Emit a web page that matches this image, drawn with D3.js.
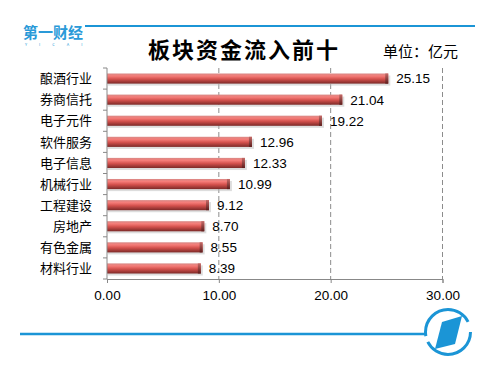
<!DOCTYPE html>
<html>
<head>
<meta charset="utf-8">
<script src="https://cdn.jsdelivr.net/npm/d3@7"></script>
<style>
  body { margin: 0; background: #fff; }
  text { font-family: "Noto Sans CJK SC", "Liberation Sans", sans-serif; }
</style>
</head>
<body>
<div id="chart"></div>
<script>
// data
var categories = ["酿酒行业", "券商信托", "电子元件", "软件服务", "电子信息",
                  "机械行业", "工程建设", "房地产", "有色金属", "材料行业"];
var inflows = [25.15, 21.04, 19.22, 12.96, 12.33, 10.99, 9.12, 8.70, 8.55, 8.39];
var xTicks = [0, 10, 20, 30];

var width = 500, height = 373;
var margin = {top: 68, right: 58, bottom: 94, left: 107};
var plotW = width - margin.left - margin.right,
    plotH = height - margin.top - margin.bottom;

var blue = "#1b95d6";

var svg = d3.select("#chart").append("svg")
    .attr("width", width)
    .attr("height", height);

// bar gradient (cylinder look)
var defs = svg.append("defs");
var grad = defs.append("linearGradient")
    .attr("id", "barGrad")
    .attr("x1", 0).attr("y1", 0).attr("x2", 0).attr("y2", 1);
grad.append("stop").attr("offset", "0%").attr("stop-color", "#d98a87");
grad.append("stop").attr("offset", "25%").attr("stop-color", "#f57c78");
grad.append("stop").attr("offset", "55%").attr("stop-color", "#d4514d");
grad.append("stop").attr("offset", "100%").attr("stop-color", "#7c2927");

var capGrad = defs.append("linearGradient")
    .attr("id", "capGrad")
    .attr("x1", 0).attr("y1", 0).attr("x2", 0).attr("y2", 1);
capGrad.append("stop").attr("offset", "0%").attr("stop-color", "#c46a67");
capGrad.append("stop").attr("offset", "100%").attr("stop-color", "#5e1d1c");

// header: logo + blue rule
svg.append("line")
    .attr("x1", 85).attr("x2", 475)
    .attr("y1", 26).attr("y2", 26)
    .attr("stroke", blue).attr("stroke-width", 2);

svg.append("text")
    .attr("x", 23).attr("y", 38)
    .style("font-size", "15px")
    .style("font-weight", "bold")
    .attr("fill", "#2a9ad8")
    .text("第一财经");
svg.append("text")
    .attr("x", 25).attr("y", 46)
    .style("font-size", "4px")
    .style("letter-spacing", "12px")
    .attr("fill", "#2a9ad8")
    .text("YICAI");

// title
svg.append("text")
    .attr("x", 244).attr("y", 58)
    .attr("text-anchor", "middle")
    .style("font-size", "22px")
    .style("font-weight", "bold")
    .style("letter-spacing", "2px")
    .attr("fill", "#000")
    .text("板块资金流入前十");

svg.append("text")
    .attr("x", 383).attr("y", 57)
    .style("font-size", "15px")
    .attr("fill", "#000")
    .text("单位：亿元");

var g = svg.append("g")
    .attr("transform", "translate(" + margin.left + "," + margin.top + ")");

var x = d3.scaleLinear()
    .domain([0, 30])
    .range([0, plotW + 0.5]);

var y = d3.scaleBand()
    .domain(categories)
    .range([0, plotH])
    .paddingInner(0.52)
    .paddingOuter(0.26);

// dashed gridlines
g.selectAll(".grid")
    .data(xTicks.slice(1))
    .enter().append("line")
    .attr("class", "grid")
    .attr("x1", function(d) { return x(d); })
    .attr("x2", function(d) { return x(d); })
    .attr("y1", 0).attr("y2", plotH)
    .attr("stroke", "#8c8c8c")
    .attr("stroke-dasharray", "5,3");

// bars
var data = categories.map(function(c, i) { return {cat: c, val: inflows[i]}; });

var bars = g.selectAll(".bar")
    .data(data)
    .enter().append("g")
    .attr("class", "bar");

// soft shadow
bars.append("rect")
    .attr("x", 1)
    .attr("y", function(d) { return y(d.cat) + 2; })
    .attr("width", function(d) { return x(d.val) + 1; })
    .attr("height", y.bandwidth())
    .attr("fill", "#bbb")
    .attr("opacity", 0.5);

bars.append("rect")
    .attr("x", 0)
    .attr("y", function(d) { return y(d.cat); })
    .attr("width", function(d) { return x(d.val); })
    .attr("height", y.bandwidth())
    .attr("fill", "url(#barGrad)");

// end cap
bars.append("rect")
    .attr("x", function(d) { return x(d.val) - 3; })
    .attr("y", function(d) { return y(d.cat); })
    .attr("width", 3)
    .attr("height", y.bandwidth())
    .attr("fill", "url(#capGrad)");

// value labels
g.selectAll(".val")
    .data(data)
    .enter().append("text")
    .attr("class", "val")
    .attr("x", function(d) { return x(d.val) + 8; })
    .attr("y", function(d) { return y(d.cat) + y.bandwidth() / 2; })
    .attr("dy", "0.36em")
    .style("font-size", "13.5px")
    .style("font-family", "'Liberation Sans', Arial, sans-serif")
    .attr("fill", "#000")
    .text(function(d) { return d3.format(".2f")(d.val); });

// y axis (band boundaries as ticks)
var yAxis = g.append("g");
yAxis.append("line")
    .attr("x1", 0).attr("x2", 0)
    .attr("y1", 0).attr("y2", plotH)
    .attr("stroke", "#888");
yAxis.selectAll(".ytick")
    .data(d3.range(categories.length + 1))
    .enter().append("line")
    .attr("x1", -4).attr("x2", 0)
    .attr("y1", function(i) { return i * plotH / categories.length; })
    .attr("y2", function(i) { return i * plotH / categories.length; })
    .attr("stroke", "#888");
yAxis.selectAll(".ylab")
    .data(categories)
    .enter().append("text")
    .attr("x", -15)
    .attr("y", function(d) { return y(d) + y.bandwidth() / 2; })
    .attr("dy", "0.36em")
    .attr("text-anchor", "end")
    .style("font-size", "13px")
    .attr("fill", "#000")
    .text(function(d) { return d; });

// x axis
var xAxis = g.append("g")
    .attr("transform", "translate(0," + plotH + ")")
    .call(d3.axisBottom(x).tickValues(xTicks).tickFormat(d3.format(".2f")).tickSize(4).tickPadding(7));
xAxis.select(".domain").attr("stroke", "#888");
xAxis.selectAll(".tick line").attr("stroke", "#888");
xAxis.selectAll(".tick text")
    .style("font-size", "13.5px")
    .style("font-family", "'Liberation Sans', Arial, sans-serif")
    .attr("fill", "#000");

// footer: blue rule + round logo
svg.append("line")
    .attr("x1", 20).attr("x2", 425)
    .attr("y1", 334).attr("y2", 334)
    .attr("stroke", blue).attr("stroke-width", 2.5);

var logo = svg.append("g").attr("transform", "translate(448,332)");
logo.append("circle")
    .attr("r", 22.5)
    .attr("fill", "none")
    .attr("stroke", blue)
    .attr("stroke-width", 3)
    .attr("stroke-dasharray", "60,6,64,11");
logo.append("path")
    .attr("d", "M-6,-10 L14,-16 L7,12 L-13,17 Z")
    .attr("fill", blue);
</script>
</body>
</html>
